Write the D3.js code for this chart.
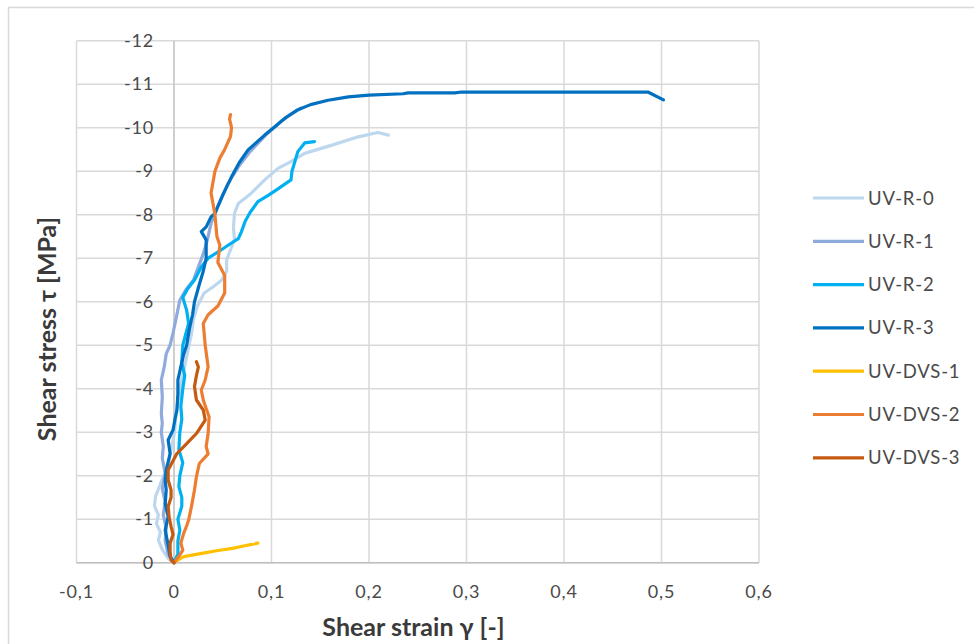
<!DOCTYPE html>
<html>
<head>
<meta charset="utf-8">
<script src="https://cdn.jsdelivr.net/npm/d3@7"></script>
<style>
  body { margin: 0; background: #fff; }
  svg { display: block; font-family: Lato, "Open Sans", sans-serif; }
</style>
</head>
<body>
<div id="chart"></div>
<script>
// series names and colours, in drawing order
const seriesNames = ["UV-R-0", "UV-R-1", "UV-R-2", "UV-R-3", "UV-DVS-1", "UV-DVS-2", "UV-DVS-3"];
const seriesColors = ["#bdd7ee", "#8faadc", "#00b0f0", "#0070c0", "#ffc000", "#ed7d31", "#c55a11"];

// tick values / labels
const xTicks = [-0.1, 0, 0.1, 0.2, 0.3, 0.4, 0.5, 0.6];
const xTickLabels = ["-0,1", "0", "0,1", "0,2", "0,3", "0,4", "0,5", "0,6"];
const yTicks = [0, -1, -2, -3, -4, -5, -6, -7, -8, -9, -10, -11, -12];
const yTickLabels = ["0", "-1", "-2", "-3", "-4", "-5", "-6", "-7", "-8", "-9", "-10", "-11", "-12"];

// [shear strain, shear stress]
const uvR0 = [[0,0],[-0.006,-0.1],[-0.012,-0.3],[-0.016,-0.52],[-0.014,-0.7],[-0.018,-0.9],[-0.016,-1.1],[-0.02,-1.3],[-0.019,-1.52],[-0.015,-1.75],[-0.011,-1.98],[-0.006,-2.2],[-0.004,-2.5],[-0.001,-2.8],[0.001,-3.1],[0.002,-3.4],[0.004,-3.7],[0.006,-4.0],[0.009,-4.3],[0.013,-4.74],[0.018,-5.27],[0.02,-5.6],[0.024,-5.9],[0.031,-6.2],[0.04,-6.34],[0.049,-6.5],[0.054,-6.7],[0.054,-6.96],[0.058,-7.2],[0.062,-7.42],[0.061,-7.7],[0.062,-8.03],[0.066,-8.26],[0.079,-8.49],[0.093,-8.8],[0.107,-9.07],[0.12,-9.22],[0.134,-9.41],[0.162,-9.6],[0.189,-9.79],[0.209,-9.89],[0.22,-9.83]];
const uvR1 = [[0,0],[-0.006,-0.2],[-0.009,-0.5],[-0.008,-0.8],[-0.011,-1.1],[-0.009,-1.4],[-0.012,-1.7],[-0.009,-2.05],[-0.012,-2.4],[-0.011,-2.67],[-0.013,-3.0],[-0.012,-3.2],[-0.013,-3.43],[-0.012,-3.8],[-0.013,-4.2],[-0.01,-4.5],[-0.008,-4.8],[-0.004,-5.0],[-0.001,-5.28],[0.002,-5.6],[0.006,-6.04],[0.013,-6.3],[0.02,-6.5],[0.025,-6.8],[0.03,-7.1],[0.034,-7.4],[0.038,-7.8],[0.045,-8.2],[0.055,-8.7],[0.066,-9.1],[0.078,-9.45],[0.095,-9.85],[0.11,-10.15],[0.125,-10.38],[0.13,-10.45]];
const uvR2 = [[0,0],[0.004,-0.2],[0.004,-0.5],[0.006,-0.75],[0.004,-1.0],[0.008,-1.3],[0.008,-1.5],[0.005,-1.75],[0.006,-2.0],[0.009,-2.3],[0.005,-2.6],[0.006,-3.0],[0.008,-3.3],[0.007,-3.6],[0.009,-4.0],[0.011,-4.3],[0.008,-4.6],[0.009,-5.0],[0.015,-5.5],[0.013,-5.8],[0.009,-6.1],[0.014,-6.3],[0.021,-6.5],[0.028,-6.8],[0.035,-7.0],[0.049,-7.2],[0.059,-7.35],[0.066,-7.45],[0.069,-7.6],[0.073,-7.85],[0.078,-8.05],[0.086,-8.3],[0.097,-8.45],[0.107,-8.6],[0.12,-8.8],[0.121,-9.0],[0.123,-9.15],[0.127,-9.45],[0.134,-9.65],[0.144,-9.68]];
const uvR3 = [[0,0],[-0.004,-0.14],[-0.006,-0.4],[-0.009,-0.75],[-0.006,-1.06],[-0.009,-1.35],[-0.008,-1.67],[-0.009,-1.9],[-0.008,-2.13],[-0.004,-2.51],[-0.006,-2.82],[-0.001,-3.05],[0.001,-3.3],[0.003,-3.51],[0.004,-3.89],[0.004,-4.2],[0.007,-4.5],[0.01,-4.8],[0.013,-5.0],[0.016,-5.4],[0.019,-5.7],[0.021,-6.0],[0.026,-6.4],[0.03,-6.7],[0.033,-7.0],[0.033,-7.42],[0.028,-7.61],[0.033,-7.72],[0.038,-7.95],[0.042,-8.03],[0.05,-8.45],[0.059,-8.87],[0.067,-9.2],[0.076,-9.49],[0.093,-9.83],[0.105,-10.05],[0.115,-10.24],[0.126,-10.4],[0.14,-10.53],[0.158,-10.63],[0.179,-10.71],[0.2,-10.75],[0.235,-10.78],[0.24,-10.8],[0.288,-10.8],[0.295,-10.82],[0.486,-10.82],[0.502,-10.64]];
const uvDvs1 = [[0,0],[0.003,-0.05],[0.01,-0.14],[0.02,-0.18],[0.03,-0.22],[0.045,-0.28],[0.06,-0.33],[0.075,-0.4],[0.086,-0.45],[0.084,-0.45]];
const uvDvs2 = [[0,0],[0.006,-0.18],[0.009,-0.29],[0.007,-0.45],[0.01,-0.68],[0.013,-0.85],[0.015,-0.98],[0.018,-1.3],[0.021,-1.67],[0.023,-1.98],[0.026,-2.28],[0.035,-2.5],[0.033,-2.67],[0.035,-2.97],[0.036,-3.35],[0.03,-3.74],[0.028,-3.97],[0.032,-4.2],[0.035,-4.5],[0.032,-5.0],[0.03,-5.5],[0.035,-5.7],[0.045,-5.9],[0.052,-6.2],[0.052,-6.6],[0.045,-6.9],[0.046,-7.1],[0.047,-7.3],[0.044,-7.5],[0.042,-8.0],[0.038,-8.5],[0.042,-9.0],[0.047,-9.3],[0.052,-9.5],[0.058,-9.8],[0.059,-10.0],[0.057,-10.2],[0.058,-10.3]];
const uvDvs3 = [[0,0],[-0.003,-0.06],[-0.004,-0.25],[-0.004,-0.45],[-0.001,-0.65],[-0.003,-0.83],[-0.005,-1.05],[-0.006,-1.29],[-0.003,-1.5],[-0.003,-1.67],[-0.006,-1.9],[-0.006,-2.13],[0.003,-2.51],[0.013,-2.74],[0.023,-2.97],[0.032,-3.28],[0.03,-3.51],[0.023,-3.74],[0.021,-4.05],[0.023,-4.3],[0.025,-4.5],[0.023,-4.62]];

const seriesData = [uvR0, uvR1, uvR2, uvR3, uvDvs1, uvDvs2, uvDvs3];

const width = 974, height = 644;
const plot = { left: 76.5, right: 759, top: 40.7, bottom: 562.7 };
const textColor = "#4a4a4a";

const svg = d3.select("#chart").append("svg")
  .attr("width", width)
  .attr("height", height);

// chart frame
svg.append("rect")
  .attr("x", 8.5).attr("y", 7.5)
  .attr("width", 990).attr("height", 660)
  .attr("fill", "none")
  .attr("stroke", "#d9d9d9")
  .attr("stroke-width", 1.5);

const x = d3.scaleLinear().domain([-0.1, 0.6]).range([plot.left, plot.right]);
const y = d3.scaleLinear().domain([0, -12]).range([plot.bottom, plot.top]);

// gridlines
const grid = svg.append("g").attr("stroke", "#d9d9d9").attr("stroke-width", 1.5);
grid.selectAll("line.v")
  .data(xTicks)
  .join("line")
  .attr("class", "v")
  .attr("x1", d => x(d)).attr("x2", d => x(d))
  .attr("y1", y(-12)).attr("y2", y(0));
grid.selectAll("line.h")
  .data(yTicks)
  .join("line")
  .attr("class", "h")
  .attr("x1", x(-0.1)).attr("x2", x(0.6))
  .attr("y1", d => y(d)).attr("y2", d => y(d));

// axis lines
svg.append("line")
  .attr("x1", x(-0.1)).attr("x2", x(0.6))
  .attr("y1", y(0)).attr("y2", y(0))
  .attr("stroke", "#bfbfbf").attr("stroke-width", 1.5);
svg.append("line")
  .attr("x1", x(0)).attr("x2", x(0))
  .attr("y1", y(-12)).attr("y2", y(0))
  .attr("stroke", "#c8c8c8").attr("stroke-width", 1.5);

// tick labels
svg.append("g")
  .selectAll("text")
  .data(xTicks)
  .join("text")
  .attr("x", d => x(d))
  .attr("y", 598)
  .attr("text-anchor", "middle")
  .attr("font-size", 18)
  .attr("letter-spacing", 0.8)
  .attr("fill", textColor)
  .text((d, i) => xTickLabels[i]);

svg.append("g")
  .selectAll("text")
  .data(yTicks)
  .join("text")
  .attr("x", x(0) - 20)
  .attr("y", d => y(d) + 6)
  .attr("text-anchor", "end")
  .attr("font-size", 18)
  .attr("letter-spacing", 0.8)
  .attr("fill", textColor)
  .text((d, i) => yTickLabels[i]);

// axis titles
svg.append("text")
  .attr("x", 413.5)
  .attr("y", 636)
  .attr("text-anchor", "middle")
  .attr("font-size", 25)
  .attr("font-weight", "bold")
  .attr("fill", "#3a3a3a")
  .text("Shear strain γ [-]");

svg.append("text")
  .attr("transform", "translate(56,329) rotate(-90)")
  .attr("text-anchor", "middle")
  .attr("font-size", 25)
  .attr("font-weight", "bold")
  .attr("fill", "#3a3a3a")
  .text("Shear stress τ [MPa]");

// curves
const line = d3.line()
  .x(d => x(d[0]))
  .y(d => y(d[1]));

svg.append("g")
  .attr("fill", "none")
  .attr("stroke-width", 3.2)
  .attr("stroke-linejoin", "round")
  .attr("stroke-linecap", "round")
  .selectAll("path")
  .data(seriesData)
  .join("path")
  .attr("stroke", (d, i) => seriesColors[i])
  .attr("d", line);

// legend
const legend = svg.append("g")
  .selectAll("g")
  .data(seriesNames)
  .join("g")
  .attr("transform", (d, i) => `translate(813,${198 + i * 43.3})`);

legend.append("line")
  .attr("x1", 0).attr("x2", 51)
  .attr("stroke", (d, i) => seriesColors[i])
  .attr("stroke-width", 3.2);

legend.append("text")
  .attr("x", 55)
  .attr("y", 6.5)
  .attr("font-size", 18.5)
  .attr("letter-spacing", 0.8)
  .attr("fill", textColor)
  .text(d => d);
</script>
</body>
</html>
